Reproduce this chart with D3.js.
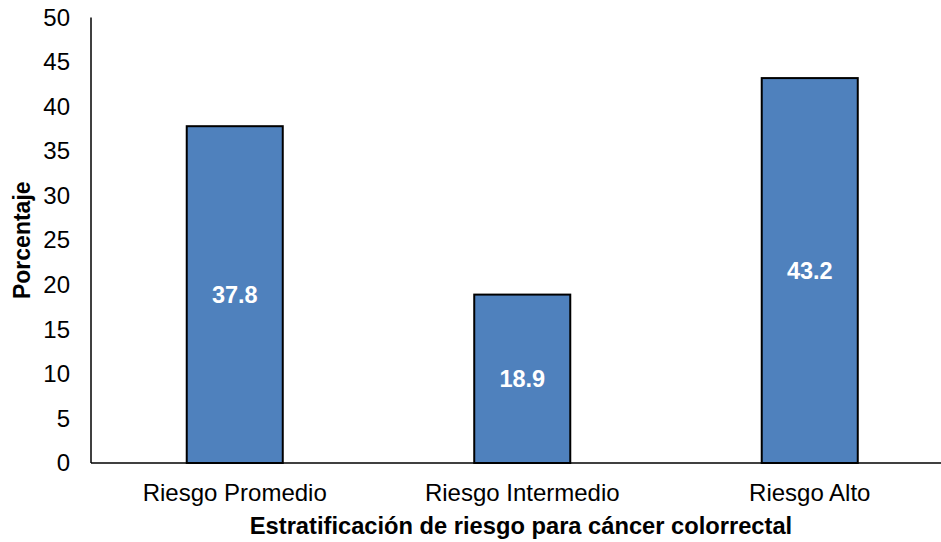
<!DOCTYPE html>
<html>
<head>
<meta charset="utf-8">
<script src="https://cdn.jsdelivr.net/npm/d3@7"></script>
<style>
  html, body { margin: 0; padding: 0; background: #fff; }
  svg { display: block; font-family: "Liberation Sans", Arial, sans-serif; }
</style>
</head>
<body>
<svg id="chart" width="941" height="542"></svg>
<script>
// Risk stratification for colorectal cancer (percent of patients)
const categories = ["Riesgo Promedio", "Riesgo Intermedio", "Riesgo Alto"];
const values = [37.8, 18.9, 43.2];
const yTicks = [0, 5, 10, 15, 20, 25, 30, 35, 40, 45, 50];
const yTitle = "Porcentaje";
const xTitle = "Estratificación de riesgo para cáncer colorrectal";

const svg = d3.select("#chart");
const plotLeft = 91, plotRight = 953.5, plotTop = 17.5, plotBottom = 463;
const fontFamily = "Liberation Sans, Arial, sans-serif";

const x = d3.scaleBand()
  .domain(categories)
  .range([plotLeft, plotRight])
  .paddingInner(0.666)
  .paddingOuter(0.333);

const y = d3.scaleLinear().domain([0, 50]).range([plotBottom, plotTop]);

// Y axis: labels only, plus a plain vertical line
const yAxis = svg.append("g")
  .attr("transform", `translate(${plotLeft},0)`)
  .call(d3.axisLeft(y).tickValues(yTicks).tickSize(0).tickPadding(21));
yAxis.select(".domain").remove();
yAxis.selectAll("text")
  .attr("font-size", 24)
  .attr("fill", "#000")
  .attr("font-family", fontFamily);
svg.append("line")
  .attr("x1", plotLeft).attr("x2", plotLeft)
  .attr("y1", y(50)).attr("y2", y(0))
  .attr("stroke", "#000").attr("stroke-width", 1.5);

// Bars
svg.append("g").selectAll("rect")
  .data(values)
  .join("rect")
  .attr("x", (d, i) => x(categories[i]))
  .attr("y", d => y(d))
  .attr("width", x.bandwidth())
  .attr("height", d => y(0) - y(d))
  .attr("fill", "#4f81bd")
  .attr("stroke", "#000")
  .attr("stroke-width", 2);

// X axis baseline
svg.append("line")
  .attr("x1", plotLeft).attr("x2", 941)
  .attr("y1", y(0)).attr("y2", y(0))
  .attr("stroke", "#000").attr("stroke-width", 1.5);

// Category labels
const xAxis = svg.append("g")
  .attr("transform", `translate(0,${plotBottom})`)
  .call(d3.axisBottom(x).tickSize(0).tickPadding(0));
xAxis.select(".domain").remove();
xAxis.selectAll("text")
  .attr("y", 38)
  .attr("dy", null)
  .attr("font-size", 24)
  .attr("fill", "#000")
  .attr("font-family", fontFamily);

// Value labels inside bars
svg.append("g").selectAll("text")
  .data(values)
  .join("text")
  .attr("x", (d, i) => x(categories[i]) + x.bandwidth() / 2)
  .attr("y", d => (y(d) + y(0)) / 2)
  .attr("dy", "0.36em")
  .attr("text-anchor", "middle")
  .attr("font-size", 23.5)
  .attr("font-weight", "bold")
  .attr("fill", "#fff")
  .text(d => d.toFixed(1));

// Axis titles
svg.append("text")
  .attr("transform", `translate(30,${(plotTop + plotBottom) / 2}) rotate(-90)`)
  .attr("text-anchor", "middle")
  .attr("font-size", 23)
  .attr("font-weight", "bold")
  .text(yTitle);

svg.append("text")
  .attr("x", 521)
  .attr("y", 534)
  .attr("text-anchor", "middle")
  .attr("font-size", 23.7)
  .attr("font-weight", "bold")
  .text(xTitle);
</script>
</body>
</html>
